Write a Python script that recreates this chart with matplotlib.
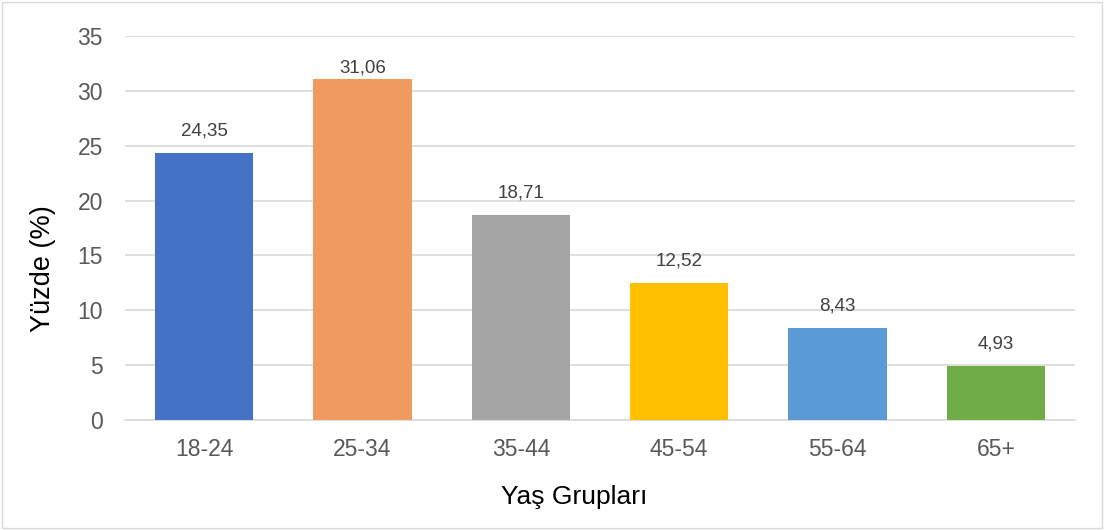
import matplotlib.pyplot as plt
import numpy as np

plt.rcParams['font.family'] = ['Liberation Sans', 'DejaVu Sans']

groups = ['18-24', '25-34', '35-44', '45-54', '55-64', '65+']
values = [24.35, 31.06, 18.71, 12.52, 8.43, 4.93]
colors = ['#4472C4', '#F19A60', '#A5A5A5', '#FFC000', '#5B9BD5', '#70AD47']
yticks = [0, 5, 10, 15, 20, 25, 30, 35]

fig = plt.figure(figsize=(11.05, 5.30), dpi=100)
ax = fig.add_axes([125 / 1105, 110 / 530, 950 / 1105, 384 / 530])

x = np.arange(len(groups))
bars = ax.bar(x, values, width=0.62, color=colors, zorder=3)
ymax = 35
for xi, v in zip(x, values):
    # label sits above the bar, but is kept inside the plot area like Excel does
    ly = min(v + 2.0, ymax - 2.9)
    ax.text(xi, ly, '{:.2f}'.format(v).replace('.', ','), ha='center', va='center',
            fontsize=13.5, color='#404040')

ax.set_xlim(-0.5, len(groups) - 0.5)
ax.set_ylim(0, ymax)
ax.set_yticks(yticks)
ax.set_xticks(x)
ax.set_xticklabels(groups)
ax.tick_params(axis='both', length=0, labelsize=16.5, colors='#595959')
ax.tick_params(axis='x', pad=13)
ax.tick_params(axis='y', pad=16)
ax.grid(axis='y', color='#D9D9D9', lw=1.2, zorder=0)
for s in ['top', 'right', 'left']:
    ax.spines[s].set_visible(False)
ax.spines['bottom'].set_color('#D9D9D9')
ax.spines['bottom'].set_linewidth(1.2)

ax.set_ylabel('Yüzde (%)', fontsize=19.5, color='black', va='center')
ax.set_xlabel('Yaş Grupları', fontsize=19, color='black', va='center')
ax.yaxis.set_label_coords(-0.0863, 0.393)
ax.xaxis.set_label_coords(0.4726, -0.2005)

fig.patches.append(plt.Rectangle((0.002, 0.003), 0.995, 0.993, transform=fig.transFigure,
                                 fill=False, edgecolor='#D9D9D9', lw=1))

plt.savefig('out.png', dpi=100)
